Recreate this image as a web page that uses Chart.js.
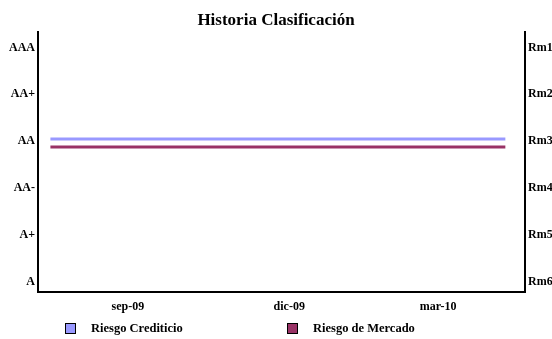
<!DOCTYPE html>
<html lang="es">
<head>
  <meta charset="UTF-8" />
  <title>Historia Clasificación</title>
  <style>
    * { margin: 0; padding: 0; box-sizing: border-box; }
    html, body { width: 552px; height: 339px; background: #fff; overflow: hidden; }
    .wrap { position: relative; width: 552px; height: 339px; }
    canvas { display: block; }
    .leyenda {
      position: absolute; top: 321px; left: 0; width: 552px; height: 16px;
      font-family: "Liberation Serif", "Times New Roman", serif;
      font-weight: bold; font-size: 12.5px; color: #000;
    }
    .leyenda span { position: absolute; top: 0; white-space: nowrap; }
    .leyenda i {
      position: absolute; top: 2px; width: 11px; height: 11px; border: 1px solid #000;
    }
  </style>
</head>
<body>
  <div class="wrap">
    <canvas id="grafico" width="552" height="339"></canvas>
    <div class="leyenda">
      <i style="left:65px;background:#9999FF"></i><span style="left:91px">Riesgo Crediticio</span>
      <i style="left:287px;background:#993366"></i><span style="left:313px">Riesgo de Mercado</span>
    </div>
  </div>
  <script src="https://cdn.jsdelivr.net/npm/chart.js"></script>
  <script>
    // meses desde sep-09
    const meses = [-1.5, -1, 0, 1, 2, 3, 4, 5, 6, 7, 7.3];
    const riesgoCrediticio = [3.05, 3.05, 3.05, 3.05, 3.05, 3.05, 3.05, 3.05, 3.05, 3.05, 3.05];
    const riesgoMercado = [3.12, 3.12, 3.12, 3.12, 3.12, 3.12, 3.12, 3.12, 3.12, 3.12, 3.12];
    const etiquetasX = ['sep-09', 'dic-09', 'mar-10'];
    const posicionesX = [0, 3.12, 6];
    const clasesIzq = ['A', 'A+', 'AA-', 'AA', 'AA+', 'AAA'];
    const clasesDer = ['Rm1', 'Rm2', 'Rm3', 'Rm4', 'Rm5', 'Rm6'];

    const fuente = { family: '"Liberation Serif", "Times New Roman", serif', weight: 'bold', size: 12 };

    new Chart(document.getElementById('grafico'), {
      type: 'line',
      data: {
        datasets: [{
          label: 'Riesgo Crediticio',
          data: meses.map((m, i) => ({ x: m, y: riesgoCrediticio[i] })),
          borderColor: '#9999FF',
          borderWidth: 3,
          pointRadius: 0,
          yAxisID: 'y'
        }, {
          label: 'Riesgo de Mercado',
          data: meses.map((m, i) => ({ x: m, y: riesgoMercado[i] })),
          borderColor: '#993366',
          borderWidth: 3,
          pointRadius: 0,
          yAxisID: 'y2'
        }]
      },
      options: {
        responsive: false,
        animation: false,
        layout: { padding: 0 },
        plugins: {
          legend: { display: false },
          tooltip: { enabled: false },
          title: {
            display: true,
            text: 'Historia Clasificación',
            color: '#000',
            font: { family: fuente.family, weight: 'bold', size: 17 },
            padding: { top: 10, bottom: 2 }
          }
        },
        scales: {
          x: {
            type: 'linear',
            min: -1.74, max: 7.68,
            grid: { display: false, drawTicks: false },
            border: { display: true, color: '#000', width: 2 },
            afterBuildTicks: s => { s.ticks = posicionesX.map(v => ({ value: v })); },
            ticks: {
              color: '#000', font: fuente, padding: 8, maxRotation: 0, autoSkip: false,
              callback: (v) => etiquetasX[posicionesX.indexOf(v)]
            },
            afterFit: s => { s.height = 47; }
          },
          y: {
            position: 'left',
            min: -0.21, max: 5.32,
            grid: { display: false, drawTicks: false },
            border: { display: true, color: '#000', width: 2 },
            afterBuildTicks: s => { s.ticks = clasesIzq.map((c, i) => ({ value: i })); },
            ticks: { color: '#000', font: fuente, padding: 3, callback: v => clasesIzq[v] },
            afterFit: s => { s.width = 38; }
          },
          y2: {
            position: 'right',
            reverse: true,
            min: 0.68, max: 6.21,
            grid: { display: false, drawTicks: false },
            border: { display: true, color: '#000', width: 2 },
            afterBuildTicks: s => { s.ticks = clasesDer.map((c, i) => ({ value: i + 1 })); },
            ticks: { color: '#000', font: fuente, padding: 3, callback: v => clasesDer[v - 1] },
            afterFit: s => { s.width = 27; }
          }
        }
      }
    });
  </script>
</body>
</html>
